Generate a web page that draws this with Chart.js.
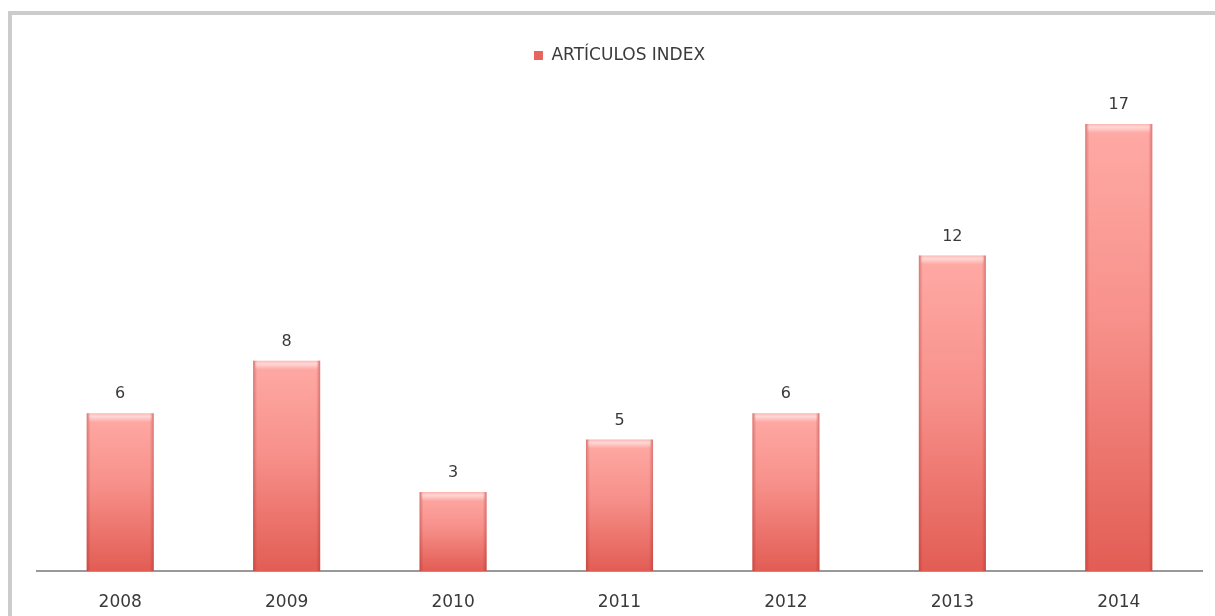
<!DOCTYPE html>
<html>
<head>
<meta charset="utf-8">
<script src="https://cdn.jsdelivr.net/npm/chart.js@4.4.1/dist/chart.umd.min.js"></script>
<style>
  html, body { margin: 0; padding: 0; width: 1215px; height: 616px; overflow: hidden; background: #ffffff; }
  #frame { position: absolute; left: 8px; top: 11px; width: 3000px; height: 3000px;
           border-top: 4px solid #cccccc; border-left: 4px solid #cccccc; box-sizing: border-box; }
  #c { position: absolute; left: 0; top: 0; }
</style>
</head>
<body>
<div id="frame"></div>
<canvas id="c" width="1215" height="616"></canvas>
<script>
const categories = ['2008', '2009', '2010', '2011', '2012', '2013', '2014'];
const articulos = [6, 8, 3, 5, 6, 12, 17];
const seriesLabel = 'ARTÍCULOS INDEX';

const FONT = 'DejaVu Sans';
const TEXT = '#3a3a3a';

function barGradient(context) {
  const chart = context.chart;
  const area = chart.chartArea;
  if (!area || context.dataIndex === undefined) return '#ec7670';
  const ys = chart.scales.y;
  const top = ys.getPixelForValue(context.raw);
  const base = ys.getPixelForValue(0);
  const g = chart.ctx.createLinearGradient(0, top, 0, base);
  g.addColorStop(0, '#ffaaa5');
  g.addColorStop(0.45, '#f7908a');
  g.addColorStop(1, '#e25d54');
  return g;
}

const bevelPlugin = {
  id: 'bevel',
  afterDatasetsDraw(chart) {
    const ctx = chart.ctx;
    const meta = chart.getDatasetMeta(0);
    ctx.save();
    meta.data.forEach((bar) => {
      const p = bar.getProps(['x', 'y', 'width', 'base'], true);
      const l = p.x - p.width / 2, r = p.x + p.width / 2;
      const h = p.base - p.y;
      const hg = ctx.createLinearGradient(0, p.y, 0, p.y + 9);
      hg.addColorStop(0, 'rgba(255,255,255,0.15)');
      hg.addColorStop(0.35, 'rgba(255,255,255,0.55)');
      hg.addColorStop(1, 'rgba(255,255,255,0)');
      ctx.fillStyle = hg;
      ctx.fillRect(l + 2, p.y, p.width - 4, Math.min(9, h));
      const lg = ctx.createLinearGradient(l, 0, l + 4, 0);
      lg.addColorStop(0, 'rgba(150,30,30,0.35)');
      lg.addColorStop(1, 'rgba(150,30,30,0)');
      ctx.fillStyle = lg;
      ctx.fillRect(l, p.y, 4, h);
      const rg = ctx.createLinearGradient(r, 0, r - 4, 0);
      rg.addColorStop(0, 'rgba(150,30,30,0.35)');
      rg.addColorStop(1, 'rgba(150,30,30,0)');
      ctx.fillStyle = rg;
      ctx.fillRect(r - 4, p.y, 4, h);
    });
    ctx.restore();
  }
};

const valueLabelPlugin = {
  id: 'valueLabels',
  afterDatasetsDraw(chart) {
    const ctx = chart.ctx;
    const meta = chart.getDatasetMeta(0);
    const data = chart.data.datasets[0].data;
    ctx.save();
    ctx.font = '16px "' + FONT + '"';
    ctx.fillStyle = TEXT;
    ctx.textAlign = 'center';
    ctx.textBaseline = 'middle';
    meta.data.forEach((bar, i) => {
      ctx.fillText(String(data[i]), bar.x, bar.y - 19);
    });
    ctx.restore();
  }
};

new Chart(document.getElementById('c'), {
  type: 'bar',
  data: {
    labels: categories,
    datasets: [{
      label: seriesLabel,
      data: articulos,
      backgroundColor: barGradient,
      borderWidth: 0,
      categoryPercentage: 1,
      barPercentage: 0.403
    }]
  },
  options: {
    responsive: false,
    animation: false,
    devicePixelRatio: 1,
    layout: { padding: { left: 37, right: 13, top: 37, bottom: 6 } },
    plugins: {
      tooltip: { enabled: false },
      legend: {
        display: true,
        position: 'top',
        labels: {
          boxWidth: 9,
          boxHeight: 9,
          padding: 10,
          color: TEXT,
          font: { family: FONT, size: 17 },
          generateLabels(chart) {
            return [{
              text: seriesLabel,
              fillStyle: '#e8655e',
              strokeStyle: '#d9534b',
              lineWidth: 0,
              fontColor: TEXT,
              datasetIndex: 0,
              hidden: false
            }];
          }
        }
      }
    },
    scales: {
      x: {
        grid: { display: false },
        border: { display: true, color: '#999999', width: 2 },
        ticks: { color: TEXT, font: { family: FONT, size: 17 }, padding: 13, maxRotation: 0 },
        afterFit(scale) { scale.height = 39; }
      },
      y: {
        display: false,
        min: 0,
        max: 18.9
      }
    }
  },
  plugins: [bevelPlugin, valueLabelPlugin]
});
</script>
</body>
</html>
